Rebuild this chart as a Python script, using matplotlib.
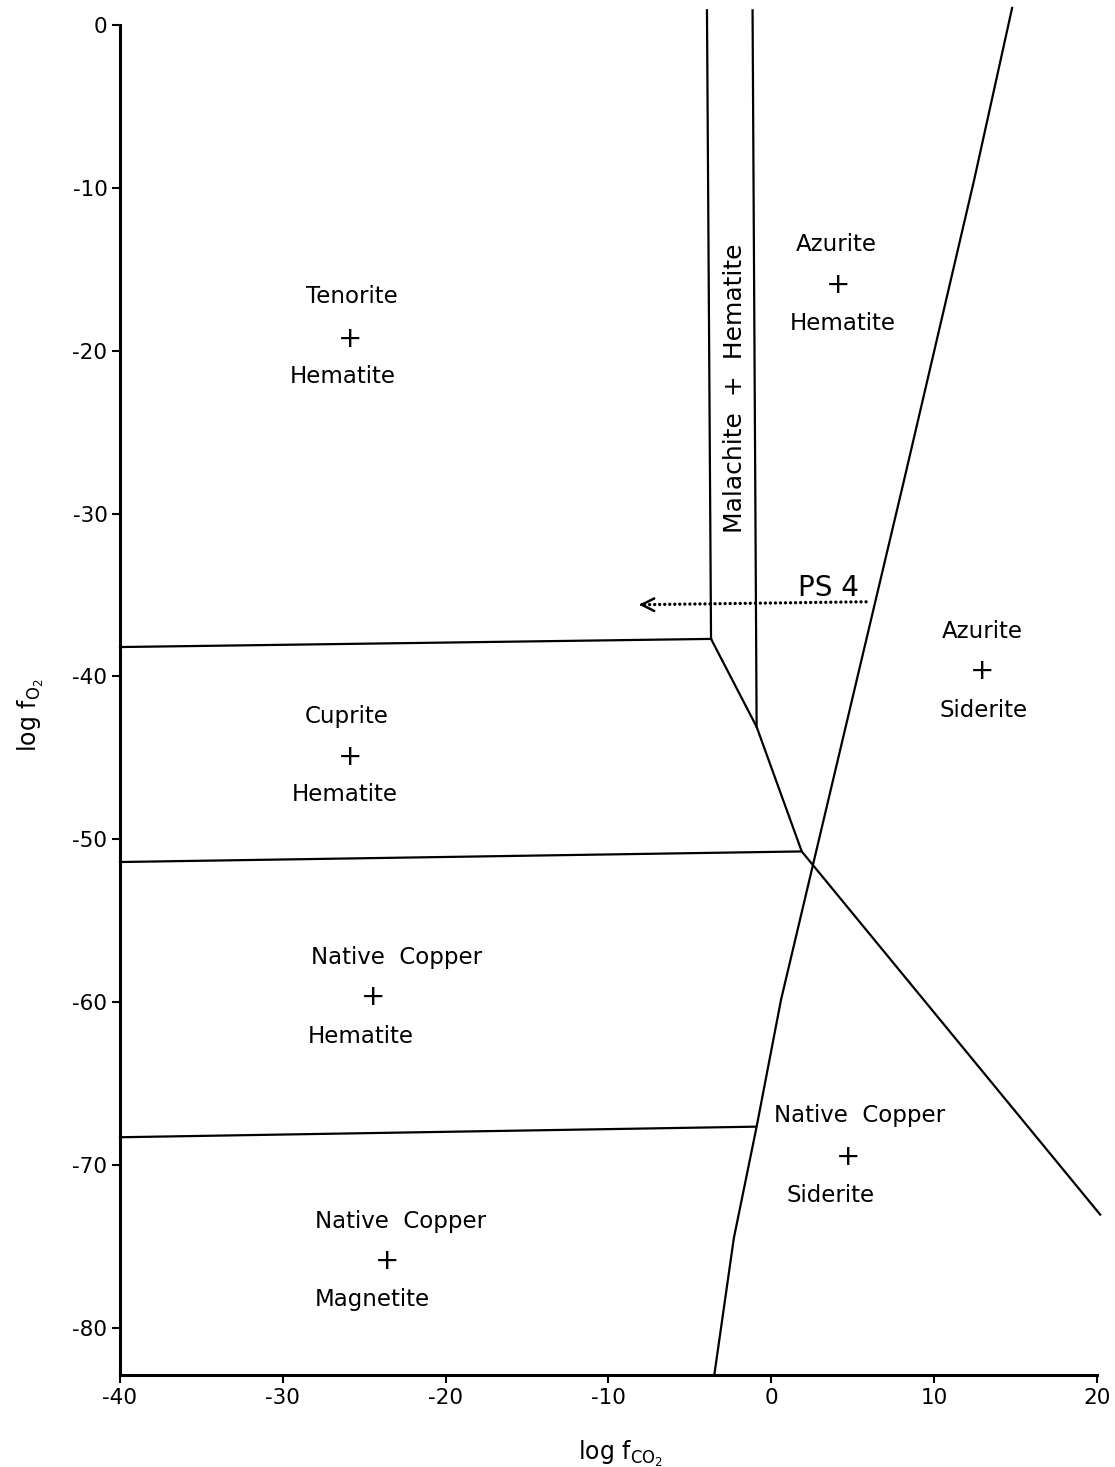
import matplotlib.pyplot as plt

plt.rcParams['axes.unicode_minus'] = False
plt.rcParams['font.family'] = ['DejaVu Sans']

# phase boundaries, log fCO2 vs log fO2
malachite_left_x = [-3.95, -3.7]
malachite_left_y = [0.9, -37.7]
malachite_right_x = [-1.15, -0.9]
malachite_right_y = [0.9, -43.1]

tenorite_cuprite_x = [-40, -3.7]
tenorite_cuprite_y = [-38.2, -37.7]

oblique_x = [-3.7, -0.9, 1.87, 20.2]
oblique_y = [-37.7, -43.1, -50.75, -73.05]

cuprite_copper_x = [-40, 1.87]
cuprite_copper_y = [-51.4, -50.75]

hematite_magnetite_x = [-40, -0.95]
hematite_magnetite_y = [-68.3, -67.65]

siderite_x = [-3.5, -2.3, -0.9, 0.6, 8.16, 12.46, 14.79]
siderite_y = [-82.9, -74.5, -67.65, -59.85, -27.93, -9.51, 1.04]

# dotted PS 4 path
ps4_x = [5.82, -8.0]
ps4_y = [-35.42, -35.6]

x_ticks = [-40, -30, -20, -10, 0, 10, 20]
y_ticks = [0, -10, -20, -30, -40, -50, -60, -70, -80]

# field labels: text, x, y
labels = [
    ('Tenorite', -25.75, -16.7), ('+', -25.85, -19.3), ('Hematite', -26.3, -21.6),
    ('Cuprite', -26.06, -42.48), ('+', -25.87, -44.94), ('Hematite', -26.18, -47.27),
    ('Native  Copper', -22.99, -57.27), ('+', -24.46, -59.67), ('Hematite', -25.2, -62.12),
    ('Native  Copper', -22.74, -73.48), ('+', -23.6, -75.87), ('Magnetite', -24.52, -78.27),
    ('Azurite', 3.98, -13.5), ('+', 4.1, -15.96), ('Hematite', 4.41, -18.35),
    ('Azurite', 12.95, -37.26), ('+', 12.95, -39.66), ('Siderite', 13.01, -42.11),
    ('Native  Copper', 5.45, -66.97), ('+', 4.72, -69.49), ('Siderite', 3.67, -71.9),
]

fig = plt.figure(figsize=(11.15, 14.67), dpi=100)
ax = fig.add_axes([0.1076, 0.0627, 0.8762, 0.9203])

lw = 1.6
for xs, ys in [(malachite_left_x, malachite_left_y),
               (malachite_right_x, malachite_right_y),
               (tenorite_cuprite_x, tenorite_cuprite_y),
               (oblique_x, oblique_y),
               (cuprite_copper_x, cuprite_copper_y),
               (hematite_magnetite_x, hematite_magnetite_y),
               (siderite_x, siderite_y)]:
    ax.plot(xs, ys, color='black', lw=lw, clip_on=False, solid_joinstyle='miter')

# PS 4 arrow
ax.plot(ps4_x, ps4_y, color='black', lw=2.4, linestyle=(0, (0.01, 1.5)),
        dash_capstyle='round', clip_on=False)
ax.annotate('', xy=(ps4_x[1] - 0.3, ps4_y[1]), xytext=(ps4_x[1] + 0.3, ps4_y[1]),
            arrowprops=dict(arrowstyle='->,head_length=0.9,head_width=0.45',
                            color='black', lw=1.8))
ax.text(3.49, -34.56, 'PS 4', fontsize=20, ha='center', va='center')

for txt, x, y in labels:
    fs = 21 if txt == '+' else 16.5
    ax.text(x, y, txt, fontsize=fs, ha='center', va='center')

ax.text(-2.22, -22.3, 'Malachite  +  Hematite', fontsize=18, rotation=90,
        ha='center', va='center')

ax.set_xlim(-40, 20)
ax.set_ylim(-82.9, 0)
ax.set_xticks(x_ticks)
ax.set_yticks(y_ticks)
ax.tick_params(direction='out', length=6, width=1.5, pad=3, labelsize=15.5)

for s in ['top', 'right']:
    ax.spines[s].set_visible(False)
for s in ['left', 'bottom']:
    ax.spines[s].set_linewidth(2.2)

ax.set_xlabel('log f$_{\\mathregular{CO_2}}$', fontsize=17)
ax.set_ylabel('log f$_{\\mathregular{O_2}}$', fontsize=17)
ax.xaxis.set_label_coords(0.512, -0.047)
ax.yaxis.set_label_coords(-0.076, 0.489)

plt.savefig('out.png', dpi=100)
plt.close()
